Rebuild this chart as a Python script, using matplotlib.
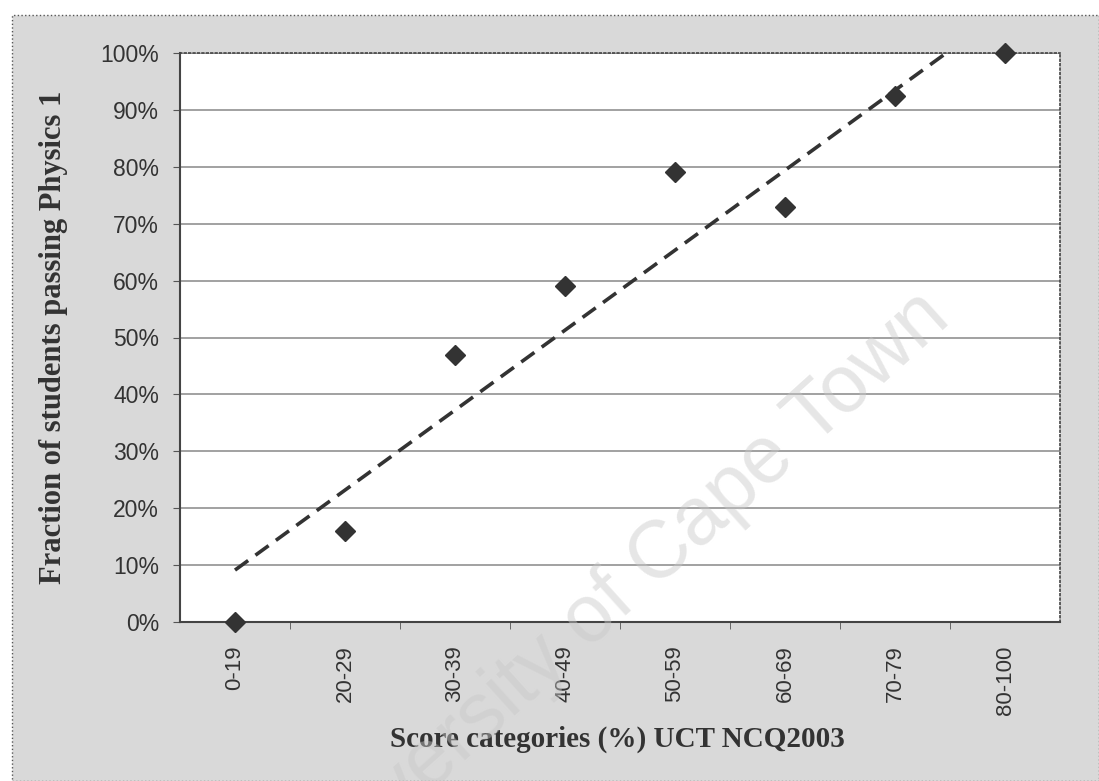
import matplotlib
matplotlib.use('Agg')
import matplotlib.pyplot as plt
import numpy as np
from matplotlib.patches import Rectangle
from matplotlib.ticker import PercentFormatter

# score categories and fraction passing
categories = ['0-19', '20-29', '30-39', '40-49', '50-59', '60-69', '70-79', '80-100']
fraction_passing = [0.0, 0.16, 0.47, 0.59, 0.79, 0.73, 0.925, 1.0]

x = np.arange(len(categories))
y = np.array(fraction_passing)

fig = plt.figure(figsize=(10.99, 7.81), dpi=100)
fig.patch.set_facecolor('white')

# grey chart area (Excel style)
W, H = 1099, 781
fig.patches.append(Rectangle((12 / W, 0), 1 - 12 / W, 1 - 15 / H, transform=fig.transFigure,
                             facecolor='#d9d9d9', edgecolor='#555555', linestyle=':',
                             linewidth=1.0, zorder=-10))

ax = fig.add_axes([180 / W, 1 - 622 / H, (1060 - 180) / W, (622 - 53) / H])
ax.set_facecolor('white')

ax.set_xlim(-0.5, len(categories) - 0.5)
ax.set_ylim(0, 1)
ax.set_yticks(np.arange(0, 1.01, 0.1))
ax.yaxis.set_major_formatter(PercentFormatter(1.0, decimals=0))
ax.grid(axis='y', color='#9a9a9a', linewidth=1.3)
ax.set_axisbelow(True)

ax.set_xticks(x)
ax.set_xticklabels(categories, rotation=90, fontsize=16, family='Liberation Sans', color='#333333')
ax.tick_params(axis='x', length=0, pad=17)
ax.set_xticks(np.arange(0.5, len(categories) - 1, 1), minor=True)
ax.tick_params(axis='x', which='minor', length=5, color='#555555', direction='out')
ax.tick_params(axis='y', length=5, color='#555555', pad=10, labelsize=16.5, labelcolor='#333333')
for lab in ax.get_yticklabels():
    lab.set_family('Liberation Sans')

for side in ['top', 'right']:
    ax.spines[side].set_linestyle(':')
    ax.spines[side].set_color('#444444')
    ax.spines[side].set_linewidth(1.2)
ax.spines['left'].set_color('#444444')
ax.spines['left'].set_linewidth(1.5)
ax.spines['bottom'].set_color('#444444')
ax.spines['bottom'].set_linewidth(1.5)

# linear trendline
coef = np.polyfit(x, y, 1)
ax.plot(x, np.polyval(coef, x), linestyle=(0, (4.5, 2.5)), color='#333333', linewidth=2.6, zorder=3)

ax.plot(x, y, linestyle='none', marker='D', markersize=10, color='#333333', zorder=4, clip_on=False)

ax.set_xlabel('Score categories (%) UCT NCQ2003', fontsize=21, fontweight='bold',
              family='Liberation Serif', color='#333333')
ax.xaxis.set_label_coords(0.497, -0.183)
ax.set_ylabel('Fraction of students passing Physics 1', fontsize=22, fontweight='bold',
              family='Liberation Serif', color='#333333')
ax.yaxis.set_label_coords(-0.127, 0.5)

# watermark
fig.text(0.561, 0.237, 'University of Cape Town', fontsize=58, family='Liberation Sans',
         color='#c8c8c8', alpha=0.45, rotation=42, ha='center', va='center', zorder=5)

fig.savefig('out.png', dpi=100)
